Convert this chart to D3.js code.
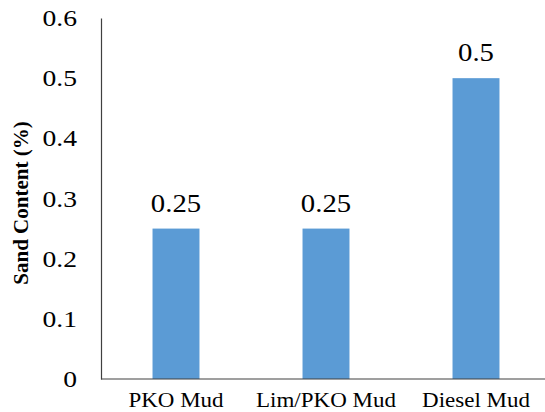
<!DOCTYPE html>
<html>
<head>
<meta charset="utf-8">
<script src="https://cdn.jsdelivr.net/npm/d3@7"></script>
<style>
  html, body { margin: 0; padding: 0; background: #fff; }
  svg { display: block; }
  text { font-family: "Liberation Serif", "Times New Roman", serif; fill: #000; }
</style>
</head>
<body>
<svg id="chart" width="545" height="412"></svg>
<script>
// Sand content of each drilling mud
const categories = ["PKO Mud", "Lim/PKO Mud", "Diesel Mud"];
const sandContent = [0.25, 0.25, 0.5];
const valueLabels = ["0.25", "0.25", "0.5"];
const yTicks = [0, 0.1, 0.2, 0.3, 0.4, 0.5, 0.6];
const yTickLabels = ["0", "0.1", "0.2", "0.3", "0.4", "0.5", "0.6"];
const yTitle = "Sand Content (%)";

const W = 545, H = 412;
const plot = { left: 101, right: 551, top: 18, bottom: 379 };
const SX = 1.15; // horizontal text widening

const svg = d3.select("#chart");

const x = d3.scaleBand()
  .domain(categories)
  .range([plot.left, plot.right])
  .paddingInner(0.687)
  .paddingOuter(0.3435);

const y = d3.scaleLinear()
  .domain([0, 0.6])
  .range([plot.bottom, plot.top]);

// bars
svg.append("g")
  .selectAll("rect")
  .data(categories)
  .join("rect")
  .attr("x", d => x(d))
  .attr("width", x.bandwidth())
  .attr("y", (d, i) => y(sandContent[i]))
  .attr("height", (d, i) => y(0) - y(sandContent[i]))
  .attr("fill", "#5B9BD5");

// value labels above bars
svg.append("g")
  .selectAll("text")
  .data(categories)
  .join("text")
  .attr("text-anchor", "middle")
  .attr("font-size", 25)
  .attr("transform", (d, i) =>
    `translate(${x(d) + x.bandwidth() / 2},${y(sandContent[i]) - 17}) scale(${SX},1)`)
  .text((d, i) => valueLabels[i]);

// y axis
const yAxis = svg.append("g")
  .attr("transform", `translate(${plot.left},0)`)
  .call(d3.axisLeft(y)
    .tickValues(yTicks)
    .tickFormat((d, i) => yTickLabels[i])
    .tickSize(0)
    .tickPadding(24));
yAxis.select(".domain").attr("stroke", "#404040").attr("stroke-width", 1.2);
yAxis.selectAll(".tick text")
  .attr("x", null)
  .attr("dy", "0.33em")
  .attr("font-size", 23)
  .attr("font-family", "Liberation Serif, Times New Roman, serif")
  .attr("fill", "#000")
  .attr("transform", `translate(-24,0) scale(1.2,1)`);

// x axis line
svg.append("line")
  .attr("x1", plot.left).attr("x2", W)
  .attr("y1", y(0)).attr("y2", y(0))
  .attr("stroke", "#404040").attr("stroke-width", 1.2);

// category labels
svg.append("g")
  .selectAll("text")
  .data(categories)
  .join("text")
  .attr("text-anchor", "middle")
  .attr("font-size", 20)
  .attr("transform", d => `translate(${x(d) + x.bandwidth() / 2},407) scale(${SX},1)`)
  .text(d => d);

// y axis title
svg.append("text")
  .attr("text-anchor", "middle")
  .attr("font-size", 21)
  .attr("font-weight", "bold")
  .attr("transform", `translate(28,203) rotate(-90)`)
  .text(yTitle);
</script>
</body>
</html>
